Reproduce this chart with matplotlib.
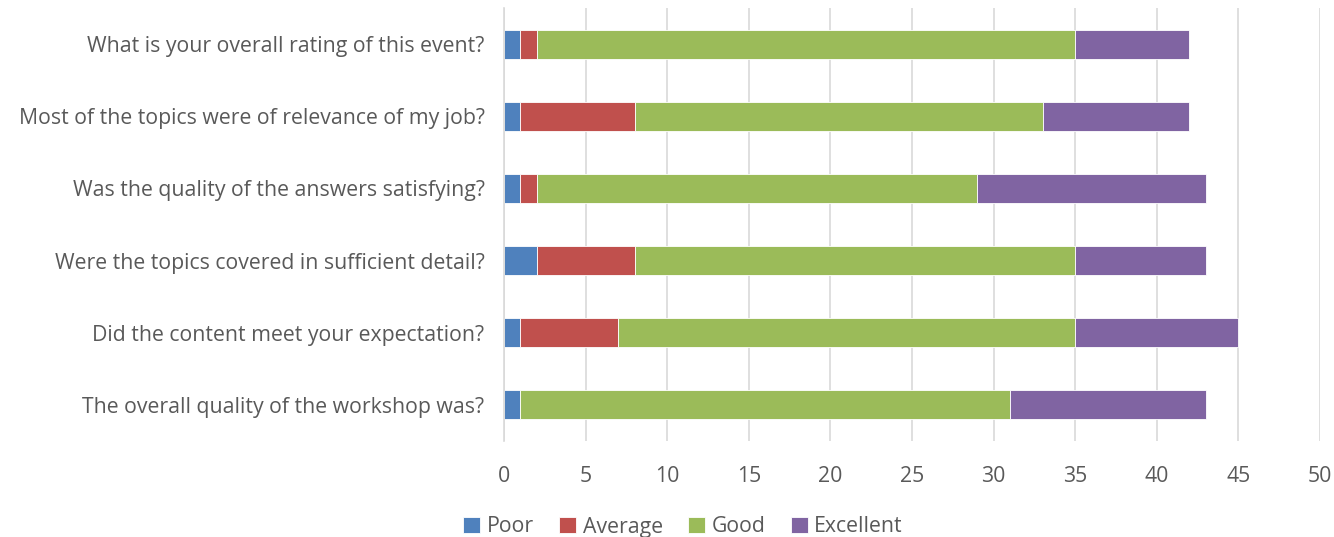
import numpy as np
import matplotlib.pyplot as plt

plt.rcParams['font.family'] = ['Open Sans', 'DejaVu Sans']

questions = [
    "What is your overall rating of this event?",
    "Most of the topics were of relevance of my job?",
    "Was the quality of the answers satisfying?",
    "Were the topics covered in sufficient detail?",
    "Did the content meet your expectation?",
    "The overall quality of the workshop was?",
]
poor = [1, 1, 1, 2, 1, 1]
average = [1, 7, 1, 6, 6, 0]
good = [33, 25, 27, 27, 28, 30]
excellent = [7, 9, 14, 8, 10, 12]

series = [("Poor", poor, "#4F81BD"), ("Average", average, "#C0504D"),
          ("Good", good, "#9BBB59"), ("Excellent", excellent, "#8064A2")]

text_col = "#595959"

fig = plt.figure(figsize=(13.34, 5.37), dpi=100)
ax = fig.add_axes([504 / 1334, 1 - 441 / 537, 816 / 1334, 433 / 537])

y = np.arange(len(questions))[::-1]
left = np.zeros(len(questions))
for name, vals, col in series:
    vals = np.array(vals, dtype=float)
    ax.barh(y, vals, left=left, height=0.4, color=col, label=name,
            edgecolor="white", linewidth=0.6)
    left += vals

ax.set_xlim(0, 50)
ax.set_ylim(-0.5, len(questions) - 0.5)
ax.set_xticks(np.arange(0, 51, 5))
ax.set_yticks(y)
ax.set_yticklabels(questions)
ax.tick_params(length=0, labelsize=15.3, colors=text_col)
ax.tick_params(axis="x", pad=18)
ax.tick_params(axis="y", pad=14)
ax.grid(axis="x", color="#D9D9D9", linewidth=1.2)
ax.set_axisbelow(True)
for s in ["top", "right", "bottom"]:
    ax.spines[s].set_visible(False)
ax.spines["left"].set_color("#D9D9D9")
ax.spines["left"].set_linewidth(1.2)

fig.legend(loc="center", bbox_to_anchor=(0.512, 1 - 527 / 537), ncol=4,
           frameon=False, fontsize=15.3, labelcolor=text_col,
           handlelength=0.8, handleheight=0.8, handletextpad=0.3,
           columnspacing=1.2)

fig.savefig("out.png", dpi=100)
